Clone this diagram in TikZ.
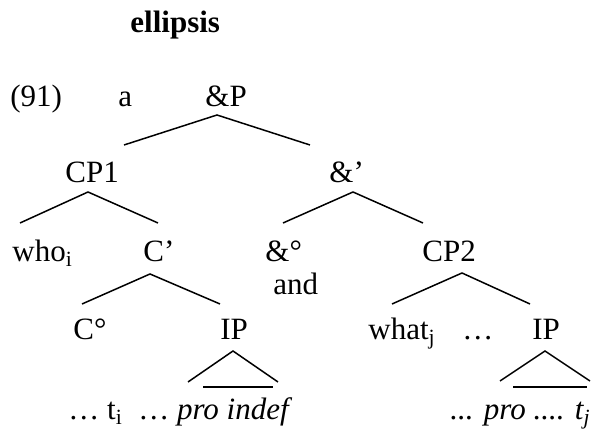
\documentclass[tikz,border=0pt]{standalone}
\usepackage{fontspec}
\setmainfont{Liberation Serif}
\begin{document}
\begin{tikzpicture}[x=0.5pt,y=-0.5pt,
    lbl/.style={inner sep=0pt,anchor=base west,font=\fontsize{15.5}{18}\selectfont},
    branch/.style={line width=0.75pt},
    bar/.style={line width=1pt}]
  \useasboundingbox (0,0) rectangle (595,431);
  % heading
  \node[lbl] (title) at (130,33) {\textbf{ellipsis}};
  \node[lbl] (exnum) at (10,107) {(91)};
  \node[lbl] (exlbl) at (118,107) {a};
  % labels
  \node[lbl] (andP) at (205,107) {\&P};
  \node[lbl] (cp1) at (65,183) {CP1};
  \node[lbl] (andbar) at (329,183) {\&’};
  \node[lbl] (who) at (12,262) {who\textsubscript{i}};
  \node[lbl] (cbar) at (143,262) {C’};
  \node[lbl] (andhead) at (265,262) {\&°};
  \node[lbl] (andword) at (273,295) {and};
  \node[lbl] (cp2) at (422,262) {CP2};
  \node[lbl] (chead) at (73,340) {C°};
  \node[lbl] (ip1) at (220,340) {IP};
  \node[lbl] (what) at (368,340) {what\textsubscript{j}};
  \node[lbl] (gap) at (462,340) {…};
  \node[lbl] (ip2) at (532,340) {IP};
  \node[lbl] (str1) at (68,420) {… t\textsubscript{i}\ \ … \textit{pro indef}};
  \node[lbl] (str2) at (450,420) {\textit{... pro .... t\textsubscript{j}}};
  % branch points
  \coordinate (andP-top) at (217,115);
  \coordinate (andP-cp1) at (124,145);
  \coordinate (andP-andbar) at (310,145);
  \coordinate (cp1-top) at (88,192);
  \coordinate (cp1-who) at (20,223);
  \coordinate (cp1-cbar) at (158,223);
  \coordinate (andbar-top) at (353,192);
  \coordinate (andbar-andhead) at (283,223);
  \coordinate (andbar-cp2) at (423,223);
  \coordinate (cbar-top) at (150,274);
  \coordinate (cbar-chead) at (82,304);
  \coordinate (cbar-ip1) at (220,304);
  \coordinate (cp2-top) at (462,273);
  \coordinate (cp2-what) at (392,304);
  \coordinate (cp2-ip2) at (530,304);
  \coordinate (ip1-top) at (233,351);
  \coordinate (ip1-l) at (188,382);
  \coordinate (ip1-r) at (278,382);
  \coordinate (ip2-top) at (545,351);
  \coordinate (ip2-l) at (500,381);
  \coordinate (ip2-r) at (590,381);
  \coordinate (str1-l) at (203,387);
  \coordinate (str1-r) at (273,387);
  \coordinate (str2-l) at (513,387);
  \coordinate (str2-r) at (587,387);
  % branches
  \draw[branch] (andP-cp1) -- (andP-top) -- (andP-andbar);
  \draw[branch] (cp1-who) -- (cp1-top) -- (cp1-cbar);
  \draw[branch] (andbar-andhead) -- (andbar-top) -- (andbar-cp2);
  \draw[branch] (cbar-chead) -- (cbar-top) -- (cbar-ip1);
  \draw[branch] (cp2-what) -- (cp2-top) -- (cp2-ip2);
  \draw[branch] (ip1-l) -- (ip1-top) -- (ip1-r);
  \draw[branch] (ip2-l) -- (ip2-top) -- (ip2-r);
  \draw[bar] (str1-l) -- (str1-r);
  \draw[bar] (str2-l) -- (str2-r);
\end{tikzpicture}
\end{document}
